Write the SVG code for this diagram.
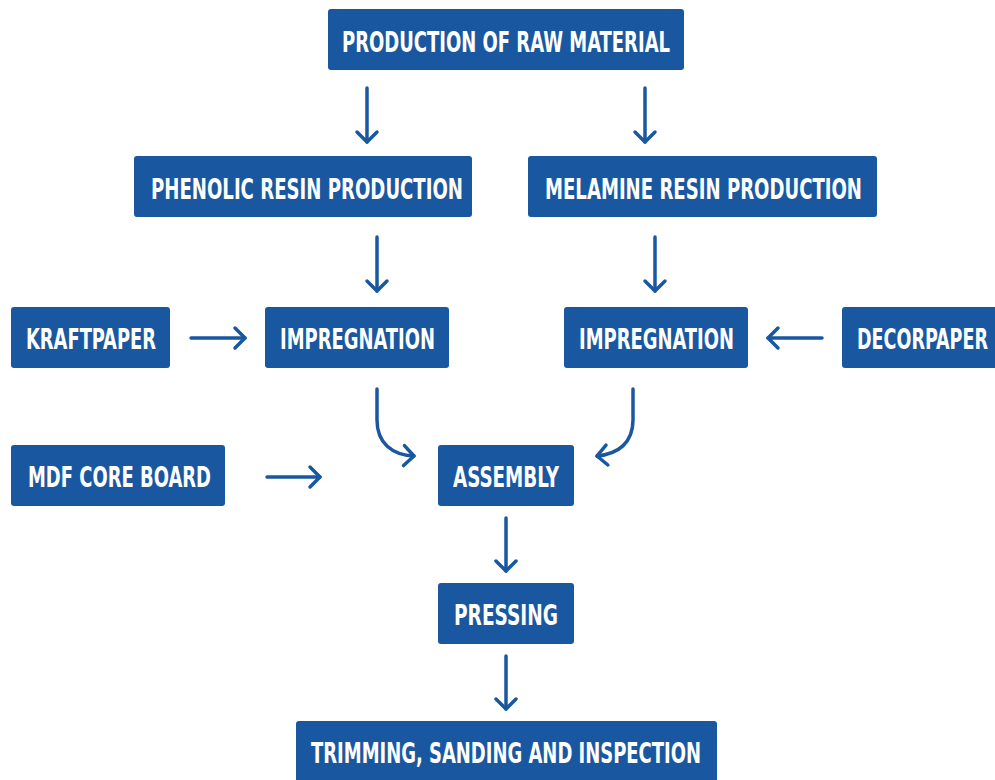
<svg xmlns="http://www.w3.org/2000/svg" width="995" height="780" viewBox="0 0 995 780">
<defs>
<style>
.box{fill:#1958a0;}
.lbl{fill:#ffffff;font-family:"Liberation Sans Narrow","DejaVu Sans Condensed","Liberation Sans",sans-serif;font-weight:bold;font-size:28px;}
.con{fill:none;stroke:#1958a0;stroke-width:3.5;stroke-linecap:round;marker-end:url(#ah);}
</style>
<marker id="ah" markerUnits="userSpaceOnUse" viewBox="-14 -14 18 28" refX="0" refY="0" markerWidth="18" markerHeight="28" orient="auto">
<path d="M-10,-10 L0,0 L-10,10" fill="none" stroke="#1958a0" stroke-width="3.5" stroke-linecap="round" stroke-linejoin="round"/>
</marker>
</defs>
<rect width="995" height="780" fill="#ffffff"/>
<g id="connectors">
<path class="con" d="M367,88 V142"/>
<path class="con" d="M645,88 V142"/>
<path class="con" d="M377,237 V291"/>
<path class="con" d="M655,237 V291"/>
<path class="con" d="M191,338 H245"/>
<path class="con" d="M822,338 H768"/>
<path class="con" d="M377,389 V420 C377,443 392,455 414,456"/>
<path class="con" d="M633,389 V420 C633,443 618,454 597,456"/>
<path class="con" d="M267,477 H320"/>
<path class="con" d="M506,518 V571"/>
<path class="con" d="M506,656 V709"/>
</g>
<g id="n-raw"><rect class="box" x="328" y="9" width="356" height="61" rx="3"/><text class="lbl" x="506" y="52" text-anchor="middle" textLength="328" lengthAdjust="spacingAndGlyphs">PRODUCTION OF RAW MATERIAL</text></g>
<g id="n-phenolic"><rect class="box" x="134" y="156" width="338" height="61" rx="3"/><text class="lbl" x="307" y="199" text-anchor="middle" textLength="312" lengthAdjust="spacingAndGlyphs">PHENOLIC RESIN PRODUCTION</text></g>
<g id="n-melamine"><rect class="box" x="528" y="156" width="349" height="61" rx="3"/><text class="lbl" x="703.5" y="199" text-anchor="middle" textLength="317" lengthAdjust="spacingAndGlyphs">MELAMINE RESIN PRODUCTION</text></g>
<g id="n-kraft"><rect class="box" x="11" y="307" width="159" height="61" rx="3"/><text class="lbl" x="91" y="349" text-anchor="middle" textLength="130" lengthAdjust="spacingAndGlyphs">KRAFTPAPER</text></g>
<g id="n-imp1"><rect class="box" x="265" y="307" width="184" height="61" rx="3"/><text class="lbl" x="357.5" y="349" text-anchor="middle" textLength="155" lengthAdjust="spacingAndGlyphs">IMPREGNATION</text></g>
<g id="n-imp2"><rect class="box" x="564" y="307" width="184" height="61" rx="3"/><text class="lbl" x="656.5" y="349" text-anchor="middle" textLength="155" lengthAdjust="spacingAndGlyphs">IMPREGNATION</text></g>
<g id="n-decor"><rect class="box" x="842" y="307" width="170" height="61" rx="3"/><text class="lbl" x="857" y="349" textLength="131" lengthAdjust="spacingAndGlyphs">DECORPAPER</text></g>
<g id="n-mdf"><rect class="box" x="11" y="445" width="214" height="61" rx="3"/><text class="lbl" x="119.5" y="487" text-anchor="middle" textLength="183" lengthAdjust="spacingAndGlyphs">MDF CORE BOARD</text></g>
<g id="n-assembly"><rect class="box" x="438" y="445" width="136" height="61" rx="3"/><text class="lbl" x="506" y="487" text-anchor="middle" textLength="106" lengthAdjust="spacingAndGlyphs">ASSEMBLY</text></g>
<g id="n-pressing"><rect class="box" x="438" y="583" width="136" height="61" rx="3"/><text class="lbl" x="506" y="625" text-anchor="middle" textLength="104" lengthAdjust="spacingAndGlyphs">PRESSING</text></g>
<g id="n-trim"><rect class="box" x="296" y="721" width="421" height="70" rx="3"/><text class="lbl" x="506" y="763" text-anchor="middle" textLength="390" lengthAdjust="spacingAndGlyphs">TRIMMING, SANDING AND INSPECTION</text></g>
</svg>
